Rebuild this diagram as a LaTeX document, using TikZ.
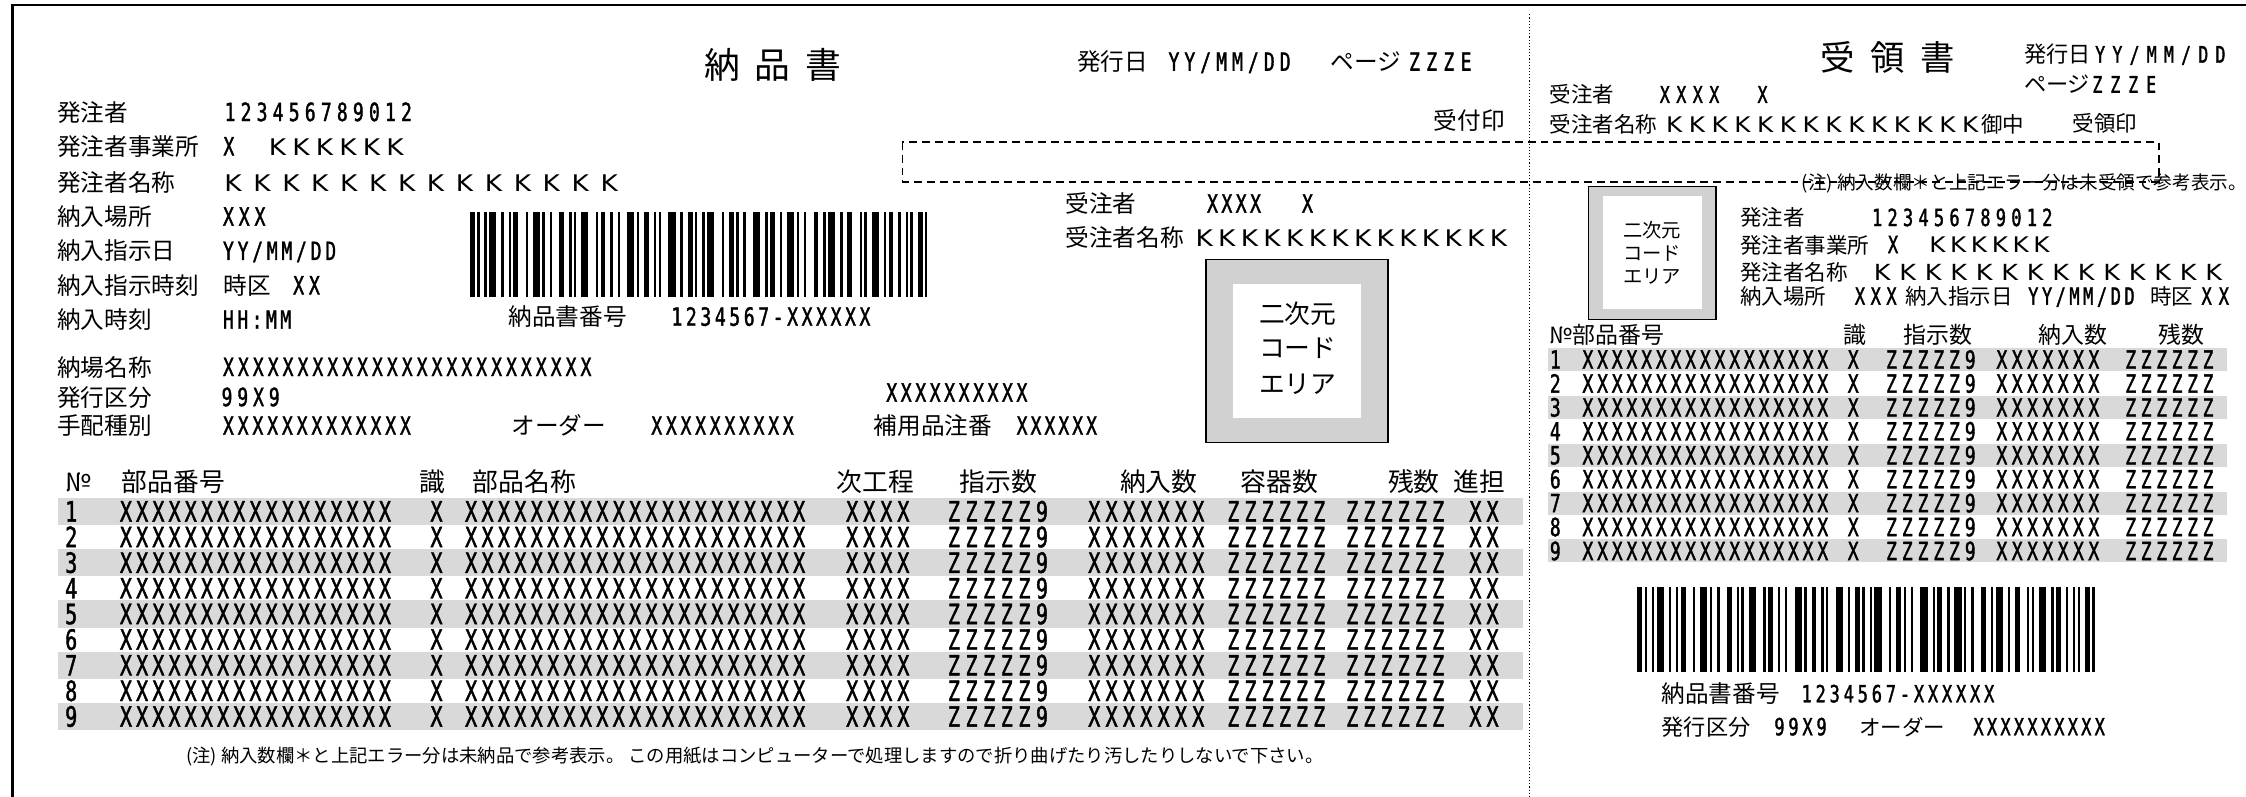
\documentclass[tikz,border=0pt]{standalone}
\usepackage{fontspec}
\newfontfamily\jpf{Noto Sans CJK JP}
\newfontfamily\mof[FakeStretch=0.72,FakeBold=1.5]{DejaVu Sans Mono}
\newfontfamily\kf[FakeStretch=1.15]{DejaVu Sans}
\makeatletter
\newcommand\cells[2]{\def\cellw{#1}\cells@loop#2\@nil}
\def\cells@loop#1{\ifx#1\@nil\else\makebox[\cellw][c]{#1}\expandafter\cells@loop\fi}
\makeatother
\definecolor{bandgray}{gray}{0.85}
\definecolor{codegray}{gray}{0.82}
\tikzset{
 txt/.style={inner sep=0pt, outer sep=0pt, anchor=base west},
 jpn/.style={txt, font=\jpf\fontsize{#1}{#1}\selectfont},
 mon/.style={txt, font=\mof\fontsize{#1}{#1}\selectfont},
 kfn/.style={txt, font=\kf\fontsize{#1}{#1}\selectfont},
 frame/.style={line width=2pt},
 sep/.style={line width=0.7pt, dash pattern=on 0.8pt off 1.4pt},
 stampbox/.style={line width=1.2pt, dash pattern=on 5.5pt off 3.5pt},
 codebox/.style={fill=codegray, draw=black, line width=0.9pt},
}
\newcommand\drawbars[3]{%
 \xdef\bx{#1}%
 \foreach \bw/\gw in {2/1,1/2,1/1,3/2,1/2,1/1,2/3,1/2,3/1,1/2,1/3,2/2,1/1,1/2,3/3,1/1,2/2,1/2,1/3,3/1,1/2,2/2,1/1,1/3,3/2,1/2,2/1,1/2,1/1,3/3,1/2,2/1,1/2,1/3,3/2,1/1,2/2,1/2,3/1,1/2,1/3,2/2,1/1,3/2,1/2,2/3,1/1,1/2,3/2,1/1,2/2,1/2,1/1,1/2,2/1,1/0}{%
   \fill (\bx,#2) rectangle ++(\bw*1.69,#3);
   \pgfmathparse{\bx+(\bw+\gw)*1.69}\xdef\bx{\pgfmathresult}
 }}
\begin{document}
\begin{tikzpicture}[x=1pt,y=-1pt]
\useasboundingbox (0,0) rectangle (1568,556.4);
% frame and separators
\draw[frame] (8.5,556.4) -- (8.5,3.5) -- (1568,3.5);
\draw[sep] (1067.5,10) -- (1067.5,556.4);
\draw[stampbox] (630,99) rectangle (1507,127);
% ---------------- left: delivery note ----------------
\node[jpn=25] (ttl) at (492,55) {納\hspace{10pt}品\hspace{10pt}書};
\node[jpn=16.5] (hd1) at (752,49.3) {発行日};
\node[mon=17.5] (hd2) at (814,49.4) {\cells{11.1pt}{YY/MM/DD}};
\node[jpn=16.5] (hd3) at (929,49.3) {ページ};
\node[mon=17.5] (hd4) at (981.5,49.4) {\cells{12pt}{ZZZE}};
\node[jpn=16.5] (uke) at (1001,90.5) {受付印};

\node[jpn=16.5] (l1) at (40,84.5) {発注者};
\node[mon=17.5] (v1) at (155,84.5) {\cells{11.2pt}{123456789012}};
\node[jpn=16.5] (l2) at (40,108.5) {発注者事業所};
\node[mon=17.5] (v2a) at (156,108.5) {X};
\node[kfn=16] (v2b) at (185.5,108.5) {\cells{16.4pt}{KKKKKK}};
\node[jpn=16.5] (l3) at (40,133.5) {発注者名称};
\node[kfn=16] (v3) at (152.6,133.5) {\cells{20.2pt}{KKKKKKKKKKKKKK}};
\node[jpn=16.5] (l4) at (40,157.5) {納入場所};
\node[mon=17.5] (v4) at (154,157.5) {\cells{11pt}{XXX}};
\node[jpn=16.5] (l5) at (40,181.5) {納入指示日};
\node[mon=17.5] (v5) at (154.4,181.5) {\cells{10.2pt}{YY/MM/DD}};
\node[jpn=16.5] (l6) at (40,205.5) {納入指示時刻};
\node[jpn=16.5] (v6a) at (156,205.5) {時区};
\node[mon=17.5] (v6b) at (203,205.5) {\cells{11pt}{XX}};
\node[jpn=16.5] (l7) at (40,229.5) {納入時刻};
\node[mon=17.5] (v7) at (154.5,229.5) {\cells{10pt}{HH:MM}};
\node[jpn=16.5] (l8) at (40,262.5) {納場名称};
\node[mon=17.5] (v8) at (154.3,262.5) {\cells{10.4pt}{XXXXXXXXXXXXXXXXXXXXXXXXX}};
\node[jpn=16.5] (l9) at (40,283.5) {発行区分};
\node[mon=17.5] (v9) at (153,283.5) {\cells{11pt}{99X9}};
\node[jpn=16.5] (l10) at (40,303.5) {手配種別};
\node[mon=17.5] (v10) at (154.3,303.5) {\cells{10.3pt}{XXXXXXXXXXXXX}};
\node[jpn=16.5] (ord) at (357,303.5) {オーダー};
\node[mon=17.5] (ordv) at (453.4,303.5) {\cells{10.2pt}{XXXXXXXXXX}};
\node[mon=17.5] (hx) at (617.5,280.4) {\cells{10.1pt}{XXXXXXXXXX}};
\node[jpn=16.5] (hyo) at (610,303.5) {補用品注番};
\node[mon=17.5] (hyov) at (708.7,303.5) {\cells{9.7pt}{XXXXXX}};

\drawbars{328}{148}{59}
\node[jpn=16.5] (nb) at (355,227.3) {納品書番号};
\node[mon=17.5] (nbv) at (467.5,227.4) {\cells{10.1pt}{1234567-XXXXXX}};

\node[jpn=16.5] (jc1) at (744,148.3) {受注者};
\node[mon=17.5] (jc1a) at (841.5,148.4) {\cells{10pt}{XXXX}};
\node[mon=17.5] (jc1b) at (909,148.4) {X};
\node[jpn=16.5] (jc2) at (744,172.3) {受注者名称};
\node[kfn=16] (jc2v) at (832.8,171.9) {\cells{15.8pt}{KKKKKKKKKKKKKK}};

\draw[codebox] (842,181) rectangle (969,309);
\fill[white] (861,198) rectangle (950,292);
\node[jpn=18, anchor=base] (q1) at (906,225.8) {二次元};
\node[jpn=18, anchor=base] (q2) at (906,249.8) {コード};
\node[jpn=18, anchor=base] (q3) at (906,274.8) {エリア};

% table header
\node[jpn=18] (th1) at (46,342.8) {№};
\node[jpn=18] (th2) at (85,342.8) {部品番号};
\node[jpn=18] (th3) at (293,342.8) {識};
\node[jpn=18] (th4) at (330,342.8) {部品名称};
\node[jpn=18] (th5) at (584,342.8) {次工程};
\node[jpn=18] (th6) at (670,342.8) {指示数};
\node[jpn=18] (th7) at (782,342.8) {納入数};
\node[jpn=18] (th8) at (866,342.8) {容器数};
\node[jpn=18] (th9) at (969,342.8) {残数};
\node[jpn=18] (th10) at (1015,342.8) {進担};

\foreach \i in {1,...,9}{
  \pgfmathsetmacro\yc{357+17.9*(\i-1)}
  \pgfmathsetmacro\yb{\yc+7.1}
  \ifodd\i\relax \fill[bandgray] (40.5,\yc-9.5) rectangle (1063,\yc+9.5);\fi
  \node[mon=19.5] (LA\i) at (45.5,\yb) {\i};
  \node[mon=19.5] (LB\i) at (82.3,\yb) {\cells{11.3pt}{XXXXXXXXXXXXXXXXX}};
  \node[mon=19.5] (LC\i) at (300.5,\yb) {X};
  \node[mon=19.5] (LD\i) at (323.2,\yb) {\cells{11.45pt}{XXXXXXXXXXXXXXXXXXXXX}};
  \node[mon=19.5] (LE\i) at (589,\yb) {\cells{11.9pt}{XXXX}};
  \node[mon=19.5] (LF\i) at (659.8,\yb) {\cells{12.3pt}{ZZZZZ9}};
  \node[mon=19.5] (LG\i) at (757.9,\yb) {\cells{12.1pt}{XXXXXXX}};
  \node[mon=19.5] (LH\i) at (855,\yb) {\cells{12pt}{ZZZZZZ}};
  \node[mon=19.5] (LI\i) at (938,\yb) {\cells{12pt}{ZZZZZZ}};
  \node[mon=19.5] (LJ\i) at (1024,\yb) {\cells{12pt}{XX}};
}
\node[jpn=12.8] (fn) at (130,532) {(注) 納入数欄＊と上記エラー分は未納品で参考表示。 この用紙はコンピューターで処理しますので折り曲げたり汚したりしないで下さい。};

% ---------------- right: receipt ----------------
\node[jpn=24] (ttr) at (1271,49.5) {受\hspace{11pt}領\hspace{11pt}書};
\node[jpn=15.5] (rh1) at (1413,43.9) {発行日};
\node[mon=16] (rh2) at (1460.2,43.8) {\cells{12pt}{YY/MM/DD}};
\node[jpn=15.5] (rh3) at (1413,64.9) {ページ};
\node[mon=16] (rh4) at (1458,64.8) {\cells{12.5pt}{ZZZE}};
\node[jpn=15] (rj1) at (1082,71.7) {受注者};
\node[mon=16] (rj1a) at (1156.5,71.8) {\cells{11.5pt}{XXXX}};
\node[mon=16] (rj1b) at (1227,71.8) {X};
\node[jpn=15] (rj2) at (1082,92.7) {受注者名称};
\node[kfn=15] (rj2v) at (1160.8,92.5) {\cells{15.9pt}{KKKKKKKKKKKKKK}};
\node[jpn=15] (rj2c) at (1383,92.7) {御中};
\node[jpn=15] (rjr) at (1447,91.7) {受領印};
\node[jpn=13] (rnote) at (1258,132) {(注) 納入数欄＊と上記エラー分は未受領で参考表示。};

\draw[codebox] (1109,130) rectangle (1198,223);
\fill[white] (1119,137) rectangle (1188,216);
\node[jpn=13.5, anchor=base] (rq1) at (1153.5,165.6) {二次元};
\node[jpn=13.5, anchor=base] (rq2) at (1153.5,182.1) {コード};
\node[jpn=13.5, anchor=base] (rq3) at (1153.5,198.1) {エリア};

\node[jpn=15] (ra1) at (1215,157.7) {発注者};
\node[mon=16.5] (ra1v) at (1305.1,157.8) {\cells{10.8pt}{123456789012}};
\node[jpn=15] (ra2) at (1215,176.7) {発注者事業所};
\node[mon=16.5] (ra2a) at (1318,176.7) {X};
\node[kfn=15] (ra2b) at (1345.4,176.5) {\cells{14.5pt}{KKKKKK}};
\node[jpn=15] (ra3) at (1215,195.7) {発注者名称};
\node[kfn=15.5] (ra3v) at (1305.2,195.5) {\cells{17.8pt}{KKKKKKKKKKKKKK}};
\node[jpn=15] (ra4) at (1215,212.7) {納入場所};
\node[mon=16.5] (ra4a) at (1293,212.7) {\cells{11pt}{XXX}};
\node[jpn=15] (ra4b) at (1330,212.7) {納入指示日};
\node[mon=16.5] (ra4c) at (1414.7,212.7) {\cells{9.6pt}{YY/MM/DD}};
\node[jpn=15] (ra4d) at (1501,212.7) {時区};
\node[mon=16.5] (ra4e) at (1534.5,212.7) {\cells{12pt}{XX}};

\node[jpn=16] (rt1) at (1082,240) {№部品番号};
\node[jpn=16] (rt2) at (1287,240) {識};
\node[jpn=16] (rt3) at (1329,240) {指示数};
\node[jpn=16] (rt4) at (1423,240) {納入数};
\node[jpn=16] (rt5) at (1507,240) {残数};

\foreach \i in {1,...,9}{
  \pgfmathsetmacro\yc{251+16.7*(\i-1)}
  \pgfmathsetmacro\yb{\yc+6.4}
  \ifodd\i\relax \fill[bandgray] (1081,\yc-8) rectangle (1555,\yc+8);\fi
  \node[mon=17.5] (RA\i) at (1082,\yb) {\i};
  \node[mon=17.5] (RB\i) at (1103.4,\yb) {\cells{10.25pt}{XXXXXXXXXXXXXXXXX}};
  \node[mon=17.5] (RC\i) at (1290,\yb) {X};
  \node[mon=17.5] (RD\i) at (1315,\yb) {\cells{11pt}{ZZZZZ9}};
  \node[mon=17.5] (RE\i) at (1392.2,\yb) {\cells{10.7pt}{XXXXXXX}};
  \node[mon=17.5] (RF\i) at (1482.1,\yb) {\cells{10.8pt}{ZZZZZZ}};
}

\drawbars{1143}{410}{59}
\node[jpn=16.5] (rb1) at (1160,490.3) {納品書番号};
\node[mon=16.5] (rb1v) at (1256.4,490.3) {\cells{9.8pt}{1234567-XXXXXX}};
\node[jpn=15.5] (rb2) at (1160,513.3) {発行区分};
\node[mon=16.5] (rb2a) at (1237.4,513.3) {\cells{9.8pt}{99X9}};
\node[jpn=15] (rb2b) at (1298,513.3) {オーダー};
\node[mon=16.5] (rb2c) at (1376.6,513.3) {\cells{9.4pt}{XXXXXXXXXX}};
\end{tikzpicture}
\end{document}
